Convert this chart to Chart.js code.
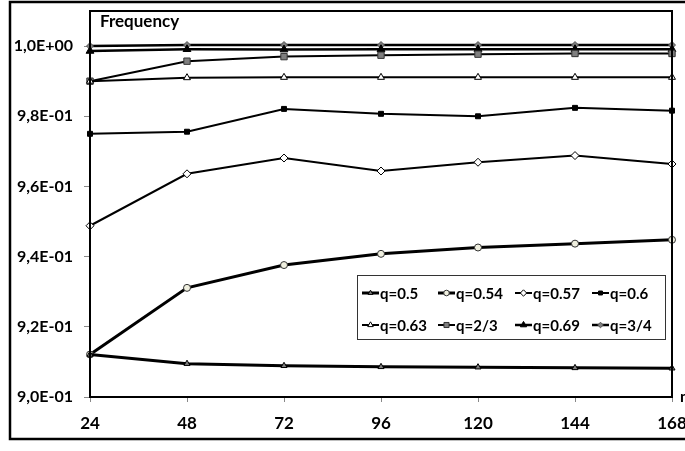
<!DOCTYPE html>
<html>
<head>
<meta charset="utf-8">
<script src="https://cdn.jsdelivr.net/npm/chart.js@4.4.1/dist/chart.umd.min.js"></script>
<style>
    html, body { margin: 0; padding: 0; background: #fff; overflow: hidden; }
    #wrap { position: absolute; left: 0; top: 0; width: 700px; height: 451px; }
</style>
</head>
<body>
<div id="wrap"><canvas id="freqChart" width="700" height="451"></canvas></div>
<script>
// Data
const categories = ['24', '48', '72', '96', '120', '144', '168'];
const seriesNames = ['q=0.5', 'q=0.54', 'q=0.57', 'q=0.6', 'q=0.63', 'q=2/3', 'q=0.69', 'q=3/4'];
const q050 = [0.9121, 0.9095, 0.9089, 0.9086, 0.9085, 0.9083, 0.9082];
const q054 = [0.9121, 0.9311, 0.9376, 0.9408, 0.9426, 0.9437, 0.9448];
const q057 = [0.9488, 0.9636, 0.9681, 0.9644, 0.9669, 0.9688, 0.9664];
const q060 = [0.9750, 0.9756, 0.9821, 0.9807, 0.9800, 0.9824, 0.9816];
const q063 = [0.9900, 0.9910, 0.9911, 0.9911, 0.9911, 0.9911, 0.9911];
const q067 = [0.9900, 0.9957, 0.9970, 0.9974, 0.9977, 0.9979, 0.9979];
const q069 = [0.9986, 0.9991, 0.9990, 0.9991, 0.9991, 0.9991, 0.9991];
const q075 = [1.0000, 1.0003, 1.0003, 1.0003, 1.0003, 1.0003, 1.0003];
const yTickValues = [0.90, 0.92, 0.94, 0.96, 0.98, 1.00];
const yTickLabels = ['9,0E-01', '9,2E-01', '9,4E-01', '9,6E-01', '9,8E-01', '1,0E+00'];

const FONT = 'Lato, "Open Sans", sans-serif';

function series(label, data, style) {
    return Object.assign({
        label: label,
        data: data,
        borderColor: '#000',
        pointBorderColor: '#000',
        pointBorderWidth: 1,
        tension: 0,
        fill: false
    }, style);
}

const datasets = [
    series(seriesNames[0], q050, { borderWidth: 3, pointStyle: 'triangle', pointRadius: 3.5, pointBackgroundColor: '#7f7f7f' }),
    series(seriesNames[1], q054, { borderWidth: 3, pointStyle: 'circle', pointRadius: 3.5, pointBackgroundColor: '#efefdf', pointBorderColor: '#333' }),
    series(seriesNames[2], q057, { borderWidth: 2, pointStyle: 'rectRot', pointRadius: 4, pointBackgroundColor: '#fff' }),
    series(seriesNames[3], q060, { borderWidth: 2, pointStyle: 'rect', pointRadius: 3.5, pointBackgroundColor: '#000' }),
    series(seriesNames[4], q063, { borderWidth: 2, pointStyle: 'triangle', pointRadius: 4, pointBackgroundColor: '#fff' }),
    series(seriesNames[5], q067, { borderWidth: 2, pointStyle: 'rect', pointRadius: 4.5, pointBackgroundColor: '#7f7f7f', pointBorderColor: '#333' }),
    series(seriesNames[6], q069, { borderWidth: 2.5, pointStyle: 'triangle', pointRadius: 4.5, pointBackgroundColor: '#000' }),
    series(seriesNames[7], q075, { borderWidth: 2.5, pointStyle: 'rectRot', pointRadius: 3.5, pointBackgroundColor: '#7f7f7f', pointBorderColor: '#555' })
];

// Frame, plot box, texts and the boxed legend
const decorPlugin = {
    id: 'decor',
    beforeDraw(chart) {
        const ctx = chart.ctx;
        ctx.save();
        ctx.fillStyle = '#fff';
        ctx.fillRect(0, 0, chart.width, chart.height);
        ctx.strokeStyle = '#000';
        ctx.lineWidth = 2.5;
        ctx.strokeRect(10, 2, 720, 437);
        ctx.restore();
    },
    afterDatasetsDraw(chart) {
        const ctx = chart.ctx;
        const a = chart.chartArea;
        ctx.save();
        ctx.strokeStyle = '#000';
        ctx.lineWidth = 2;
        ctx.strokeRect(a.left, a.top, a.right - a.left, a.bottom - a.top);

        ctx.fillStyle = '#000';
        ctx.font = 'bold 17px ' + FONT;
        ctx.textBaseline = 'alphabetic';
        ctx.textAlign = 'left';
        ctx.fillText('Frequency', a.left + 10, a.top + 16);
        ctx.font = 'bold 16px ' + FONT;
        ctx.textBaseline = 'middle';
        ctx.fillText('n', a.right + 8, a.bottom);

        // legend box
        const bx = 357, by = 275, bw = 308, bh = 64;
        ctx.fillStyle = '#fff';
        ctx.fillRect(bx, by, bw, bh);
        ctx.strokeStyle = '#333';
        ctx.lineWidth = 1;
        ctx.strokeRect(bx + 0.5, by + 0.5, bw, bh);
        const colX = [362, 438, 515, 592];
        const rowY = [293, 325];
        ctx.font = 'bold 15px ' + FONT;
        chart.data.datasets.forEach((ds, i) => {
            const x = colX[i % 4];
            const y = rowY[Math.floor(i / 4)];
            ctx.strokeStyle = '#000';
            ctx.lineWidth = ds.borderWidth;
            ctx.beginPath();
            ctx.moveTo(x, y);
            ctx.lineTo(x + 17, y);
            ctx.stroke();
            ctx.fillStyle = ds.pointBackgroundColor;
            ctx.strokeStyle = ds.pointBorderColor;
            ctx.lineWidth = 1;
            Chart.helpers.drawPoint(ctx, { pointStyle: ds.pointStyle, radius: ds.pointRadius * 0.8, rotation: 0, borderWidth: 1 }, x + 8.5, y);
            ctx.fillStyle = '#000';
            ctx.textAlign = 'left';
            ctx.textBaseline = 'middle';
            ctx.fillText(ds.label, x + 18, y + 1);
        });
        ctx.restore();
    }
};

new Chart(document.getElementById('freqChart'), {
    type: 'line',
    data: { labels: categories, datasets: datasets },
    options: {
        responsive: false,
        animation: false,
        devicePixelRatio: 1,
        layout: { padding: { left: 0, top: 11, right: 28, bottom: 0 } },
        plugins: {
            legend: { display: false },
            tooltip: { enabled: false }
        },
        scales: {
            x: {
                type: 'category',
                offset: false,
                afterFit(scale) { scale.height = 54; scale.paddingLeft = 0; scale.paddingRight = 0; },
                grid: { display: true, drawOnChartArea: false, drawTicks: true, tickLength: 5, color: '#888' },
                border: { display: true, color: '#000', width: 2 },
                ticks: { color: '#000', font: { family: FONT, size: 17, weight: 'bold' }, padding: 11, maxRotation: 0, autoSkip: false }
            },
            y: {
                type: 'linear',
                min: 0.90,
                max: 1.01,
                afterFit(scale) { scale.width = 90; scale.paddingTop = 0; scale.paddingBottom = 0; },
                afterBuildTicks(scale) { scale.ticks = yTickValues.map(v => ({ value: v })); },
                grid: { display: true, drawOnChartArea: false, drawTicks: true, tickLength: 6, color: '#888' },
                border: { display: true, color: '#000', width: 2 },
                ticks: {
                    color: '#000',
                    font: { family: FONT, size: 16, weight: 'bold' },
                    padding: 11,
                    callback(value) {
                        const i = yTickValues.findIndex(v => Math.abs(v - value) < 1e-6);
                        return i >= 0 ? yTickLabels[i] : '';
                    }
                }
            }
        }
    },
    plugins: [decorPlugin]
});
</script>
</body>
</html>
